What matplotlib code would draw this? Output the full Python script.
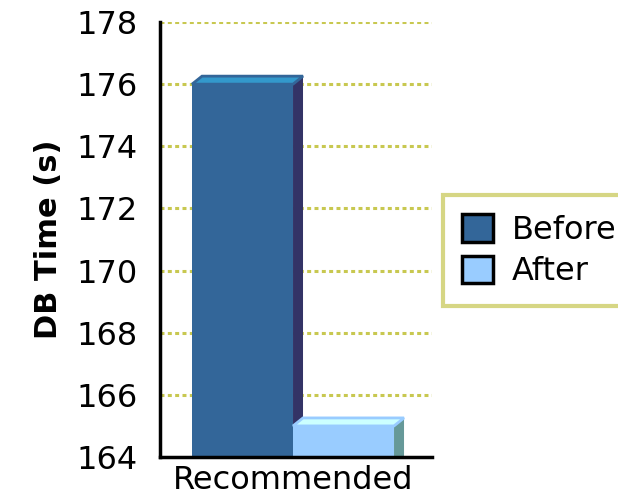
import matplotlib.pyplot as plt
from matplotlib.patches import Polygon, Patch

categories = ["Recommended"]
series = ["Before", "After"]
values = [176, 165]

front = ["#336699", "#99ccff"]
side = ["#333366", "#669999"]
top = ["#3399cc", "#ccffff"]
edge_top = ["#336699", "#99ccff"]

fig = plt.figure(figsize=(6.18, 5.04), dpi=100)
ax = fig.add_axes([160 / 618, 47 / 504, 272 / 618, 435 / 504])

ymin, ymax = 164, 178
ax.set_ylim(ymin, ymax)
ax.set_xlim(-0.817, 1.876)

# depth of the fake 3d effect, in data units
dx = 10 / 101
dy = 8 / 31.07

for i, v in enumerate(values):
    x0, x1 = i - 0.5, i + 0.5
    ax.bar(i, v - ymin, bottom=ymin, width=1.0, color=front[i], zorder=3)
    ax.add_patch(Polygon([(x1, ymin), (x1 + dx, ymin), (x1 + dx, v + dy), (x1, v)],
                         closed=True, facecolor=side[i], edgecolor="none", zorder=2))
    ax.add_patch(Polygon([(x0, v), (x0 + dx, v + dy), (x1 + dx, v + dy), (x1, v)],
                         closed=True, facecolor=top[i], edgecolor=edge_top[i], lw=2, zorder=3))

ax.set_yticks(range(164, 179, 2))
ax.set_xticks([0.5])
ax.set_xticklabels(categories)
ax.tick_params(axis="both", length=0, labelsize=23)
ax.tick_params(axis="y", pad=16)
ax.tick_params(axis="x", pad=6)

for y in range(166, 179, 2):
    ax.axhline(y, color="#c8c850", lw=2.2, ls=(0, (1.3, 1.1)), zorder=1)

for s in ["top", "right"]:
    ax.spines[s].set_visible(False)
ax.spines["left"].set_linewidth(2.5)
ax.spines["bottom"].set_linewidth(2.5)
ax.spines["left"].set_zorder(4)
ax.spines["bottom"].set_zorder(4)

ax.set_ylabel("DB Time (s)", fontsize=22, fontweight="bold", labelpad=10)

handles = [Patch(facecolor=front[i], edgecolor="black", lw=2.5, label=series[i]) for i in range(2)]
leg = fig.legend(handles=handles, loc="upper left", bbox_to_anchor=(443 / 618, 1 - 195 / 504),
                 fontsize=23, frameon=True, fancybox=False, handlelength=0.95, handleheight=0.95,
                 handletextpad=0.6, borderpad=0.6, labelspacing=0.3, borderaxespad=0)
leg.get_frame().set_edgecolor("#cccc66")
leg.get_frame().set_linewidth(3)

fig.savefig("out.png", dpi=100)
